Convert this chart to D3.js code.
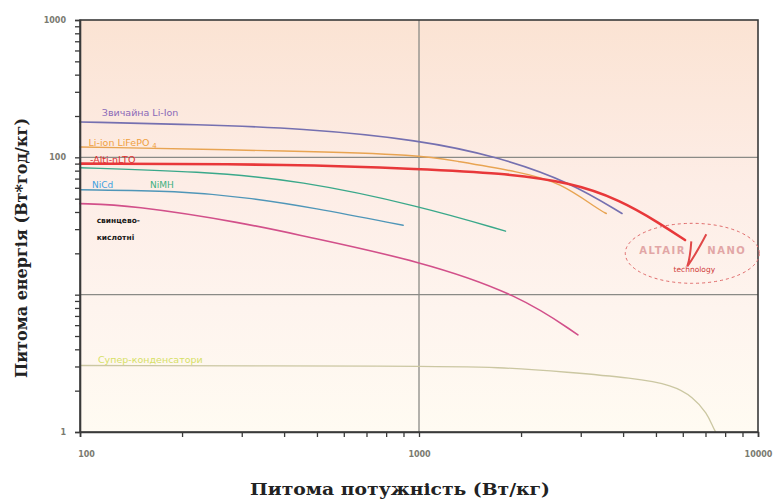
<!DOCTYPE html>
<html>
<head>
<meta charset="utf-8">
<script src="https://cdn.jsdelivr.net/npm/d3@7"></script>
<style>
  body { margin: 0; background: #fff; }
  svg { display: block; }
</style>
</head>
<body>
<div id="chart"></div>
<script>
// питома потужність (Вт/кг) і питома енергія (Вт*год/кг)
var liIonP = [100, 226, 446, 1011, 1734, 2789, 3970];
var liIonE = [181, 173, 163, 134, 100, 66, 39];

var lfpP = [100, 446, 1011, 1250, 2000, 2600, 3420, 3570];
var lfpE = [119, 111, 104, 95, 78, 66, 41, 39];

var ltoP = [100, 446, 1011, 1734, 2789, 3918, 5140, 6090];
var ltoE = [90, 89, 82, 77, 66, 49, 33, 25];

var nimhP = [100, 226, 446, 1011, 1800];
var nimhE = [84, 79, 68, 44, 29];

var nicdP = [100, 197, 311, 486, 898];
var nicdE = [58, 57, 51, 43, 32];

var leadP = [100, 140, 311, 446, 1011, 1986, 2943];
var leadE = [46, 45, 33, 27, 17.6, 9.9, 5.1];

var capP = [100, 1011, 1734, 2735, 4277, 5610, 6430, 7080, 7360, 7500];
var capE = [3.05, 3.02, 2.97, 2.73, 2.47, 2.2, 1.8, 1.37, 1.09, 1.0];

var xTickLabels = [100, 1000, 10000];
var yTickLabels = [1, 100, 1000];

var width = 775, height = 504;
var margin = {top: 20, right: 17, bottom: 72, left: 80};

var svg = d3.select("#chart")
    .append("svg")
    .attr("width", width)
    .attr("height", height);

var x = d3.scaleLog()
    .domain([100, 10000])
    .range([margin.left, width - margin.right]);

var y = d3.scaleLog()
    .domain([1, 1000])
    .range([height - margin.bottom, margin.top]);

// background gradient
var grad = svg.append("defs").append("linearGradient")
    .attr("id", "bg")
    .attr("x1", 0).attr("y1", 0).attr("x2", 0).attr("y2", 1);
grad.append("stop").attr("offset", "0%").attr("stop-color", "#fbe3d3");
grad.append("stop").attr("offset", "40%").attr("stop-color", "#fdede6");
grad.append("stop").attr("offset", "70%").attr("stop-color", "#fef4ee");
grad.append("stop").attr("offset", "100%").attr("stop-color", "#fffbf2");

svg.append("rect")
    .attr("x", x(100))
    .attr("y", y(1000))
    .attr("width", x(10000) - x(100))
    .attr("height", y(1) - y(1000))
    .attr("fill", "url(#bg)");

// grid
svg.append("line")
    .attr("x1", x(1000)).attr("x2", x(1000))
    .attr("y1", y(1000)).attr("y2", y(1))
    .attr("stroke", "#8a8a86").attr("stroke-width", 1.3);
[10, 100].forEach(function(v) {
    svg.append("line")
        .attr("x1", x(100)).attr("x2", x(10000))
        .attr("y1", y(v)).attr("y2", y(v))
        .attr("stroke", "#8a8a86").attr("stroke-width", 1.3);
});

// curves
var line = d3.line()
    .x(function(d) { return x(d[0]); })
    .y(function(d) { return y(d[1]); })
    .curve(d3.curveBasis);

function pairs(p, e) { return p.map(function(v, i) { return [v, e[i]]; }); }

var series = [
    {p: capP, e: capE, color: "#cbc7a2", w: 1.3},
    {p: leadP, e: leadE, color: "#d2508a", w: 1.6},
    {p: nicdP, e: nicdE, color: "#4f96b8", w: 1.4},
    {p: nimhP, e: nimhE, color: "#3aa88a", w: 1.4},
    {p: lfpP, e: lfpE, color: "#e8a452", w: 1.4},
    {p: liIonP, e: liIonE, color: "#7570b0", w: 1.6},
    {p: ltoP, e: ltoE, color: "#e8383a", w: 2.6}
];

svg.append("g")
    .selectAll("path")
    .data(series)
    .enter()
    .append("path")
    .attr("d", function(d) { return line(pairs(d.p, d.e)); })
    .attr("fill", "none")
    .attr("stroke", function(d) { return d.color; })
    .attr("stroke-width", function(d) { return d.w; })
    .attr("stroke-linecap", "round");

// frame
svg.append("rect")
    .attr("x", x(100))
    .attr("y", y(1000))
    .attr("width", x(10000) - x(100))
    .attr("height", y(1) - y(1000))
    .attr("fill", "none")
    .attr("stroke", "#3a3a3a")
    .attr("stroke-width", 1.6);

// axes
var xAll = x.ticks();
var yAll = y.ticks();

var xAxis = svg.append("g")
    .attr("transform", "translate(0," + y(1) + ")")
    .call(d3.axisBottom(x).tickValues(xAll).tickSize(5).tickPadding(14)
        .tickFormat(function(d) { return xTickLabels.indexOf(d) >= 0 ? d : ""; }));

var yAxis = svg.append("g")
    .attr("transform", "translate(" + x(100) + ",0)")
    .call(d3.axisLeft(y).tickValues(yAll).tickSize(5).tickPadding(9)
        .tickFormat(function(d) { return yTickLabels.indexOf(d) >= 0 ? d : ""; }));

[xAxis, yAxis].forEach(function(a) {
    a.select(".domain").attr("stroke", "#3a3a3a").attr("stroke-width", 1.6);
    a.selectAll(".tick line").attr("stroke", "#3a3a3a").attr("stroke-width", 1.3);
    a.selectAll(".tick text")
        .style("font-family", "DejaVu Sans")
        .style("font-size", "8px")
        .style("font-weight", "bold")
        .attr("fill", "#7a7a70");
});
xAxis.selectAll(".tick text").filter(function(d) { return d === 100; }).attr("dx", 6);

// series labels
function label(txt, px, py, color, size, weight) {
    return svg.append("text")
        .attr("x", x(px))
        .attr("y", y(py))
        .style("font-family", "DejaVu Sans")
        .style("font-size", size + "px")
        .style("font-weight", weight || "normal")
        .attr("fill", color)
        .text(txt);
}

label("Звичайна Li-Ion", 116, 200, "#8a68b8", 9.5);
var lf = label("Li-ion LiFePO", 106, 120, "#f0a040", 9.5);
lf.append("tspan").attr("dx", 3).attr("dy", 2).style("font-size", "7px").text("4");
label("-Alti-nLTO", 107, 91, "#e03030", 9.5);
label("NiCd", 108.5, 60, "#40a0e0", 9);
label("NiMH", 161, 60, "#40b080", 9);
label("свинцево-", 112, 33.5, "#1a1a1a", 7.5, "bold");
label("кислотні", 112, 25, "#1a1a1a", 7.5, "bold");
label("Супер-конденсатори", 113, 3.2, "#d6e066", 9.5);

// Altair Nano logo
var logo = svg.append("g")
    .attr("transform", "translate(" + x(6400) + "," + y(20) + ")");
logo.append("ellipse")
    .attr("rx", 67).attr("ry", 30)
    .attr("fill", "none")
    .attr("stroke", "#e06a6a")
    .attr("stroke-width", 1)
    .attr("stroke-dasharray", "3,3");
logo.append("text")
    .attr("x", -53).attr("y", 1)
    .style("font-family", "DejaVu Sans")
    .style("font-size", "10px")
    .style("font-weight", "bold")
    .style("letter-spacing", "1.5px")
    .attr("fill", "#e2a6a6")
    .text("ALTAIR");
logo.append("text")
    .attr("x", 15).attr("y", 1)
    .style("font-family", "DejaVu Sans")
    .style("font-size", "10px")
    .style("font-weight", "bold")
    .style("letter-spacing", "1.5px")
    .attr("fill", "#e2a6a6")
    .text("NANO");
logo.append("path")
    .attr("d", "M-1,-12 Q-2,4 -5,13 Q3,2 14,-19")
    .attr("fill", "none")
    .attr("stroke", "#e04848")
    .attr("stroke-width", 2);
logo.append("text")
    .attr("x", 2).attr("y", 19)
    .attr("text-anchor", "middle")
    .style("font-family", "DejaVu Sans")
    .style("font-size", "7.5px")
    .attr("fill", "#d03a3a")
    .text("technology");

// axis titles
svg.append("text")
    .attr("x", 400)
    .attr("y", 495)
    .attr("text-anchor", "middle")
    .attr("textLength", 300)
    .attr("lengthAdjust", "spacingAndGlyphs")
    .style("font-family", "DejaVu Serif")
    .style("font-size", "16px")
    .style("font-weight", "bold")
    .attr("fill", "#222")
    .text("Питома потужність (Вт/кг)");

svg.append("text")
    .attr("transform", "translate(27," + 248 + ") rotate(-90)")
    .attr("text-anchor", "middle")
    .attr("textLength", 260)
    .attr("lengthAdjust", "spacingAndGlyphs")
    .style("font-family", "DejaVu Serif")
    .style("font-size", "16px")
    .style("font-weight", "bold")
    .attr("fill", "#222")
    .text("Питома енергія (Вт*год/кг)");
</script>
</body>
</html>
